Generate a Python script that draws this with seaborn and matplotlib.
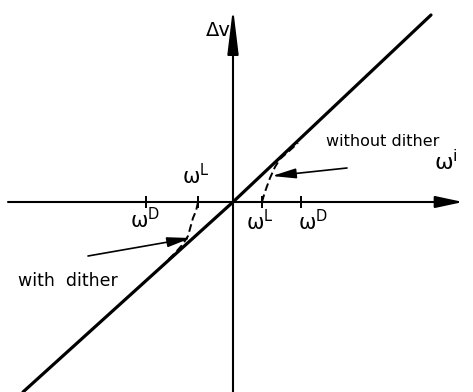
import matplotlib
matplotlib.use("Agg")
import matplotlib.pyplot as plt
import seaborn as sns
import pandas as pd

# Characteristic with dither: straight line through the origin
with_omega = [-210, 0, 198]
with_dv = [-190, 0, 187]

# Characteristic without dither (lock-in): branches starting at +/- omega_L
right_omega = [29, 31, 33, 37, 42, 47, 55, 65]
right_dv = [0, 7, 13, 24, 35, 43, 50, 59]
left_omega = [-35, -37, -40, -45, -50, -57, -66]
left_dv = [0, -9, -16, -34, -42, -50, -59]

# Marked frequencies on the omega^i axis
tick_D = [-87, 68]
tick_L = [-35, 29]

# Axis extents
x_range = (-225, 230)
y_range = (-192, 194)

sns.set_theme(style="white")
plt.rcParams["font.family"] = ["DejaVu Sans"]
plt.rcParams["text.color"] = "black"

fig = plt.figure(figsize=(4.73, 3.92), dpi=100)
ax = fig.add_axes([0, 0, 1, 1])
ax.set_xlim(-233, 240)
ax.set_ylim(-190, 202)
ax.set_axis_off()

# Coordinate axes with arrow heads
ax.annotate("", xy=(x_range[1], 0), xytext=(x_range[0], 0),
            arrowprops=dict(arrowstyle="-|>,head_length=1.4,head_width=0.3",
                            lw=1.5, color="black", shrinkA=0, shrinkB=0))
ax.annotate("", xy=(0, y_range[1]), xytext=(0, y_range[0]),
            arrowprops=dict(arrowstyle="-|>,head_length=2.3,head_width=0.28",
                            lw=1.5, color="black", shrinkA=0, shrinkB=0))

# Tick marks on the horizontal axis
ticks = pd.DataFrame({"x": tick_D + tick_L, "y": [0] * 4})
ax.plot(ticks["x"], ticks["y"], ls="none", marker="|", ms=8, mew=1.4, color="black")

# Curves
sns.lineplot(x=with_omega, y=with_dv, ax=ax, color="black", lw=2.3, sort=False)
sns.lineplot(x=right_omega, y=right_dv, ax=ax, color="black", lw=1.4,
             sort=False, dashes=False, linestyle=(0, (4, 2)))
sns.lineplot(x=left_omega, y=left_dv, ax=ax, color="black", lw=1.4,
             sort=False, dashes=False, linestyle=(0, (4, 2)))

# Pointer arrows to the curves
ax.annotate("", xy=(39, 26), xytext=(114, 34),
            arrowprops=dict(arrowstyle="-|>,head_length=1.2,head_width=0.25",
                            lw=1.2, color="black", shrinkA=0, shrinkB=0))
ax.annotate("", xy=(-42, -36), xytext=(-145, -54),
            arrowprops=dict(arrowstyle="-|>,head_length=1.2,head_width=0.25",
                            lw=1.2, color="black", shrinkA=0, shrinkB=0))

# Labels
ax.text(-15, 171, "Δv", fontsize=14, ha="center", va="center")
ax.text(213, 40, "ω$^{\\mathrm{i}}$", fontsize=16, ha="center", va="center")
ax.text(-88, -18, "ω$^{\\mathrm{D}}$", fontsize=15, ha="center", va="center")
ax.text(-37, 26, "ω$^{\\mathrm{L}}$", fontsize=15, ha="center", va="center")
ax.text(27, -20, "ω$^{\\mathrm{L}}$", fontsize=15, ha="center", va="center")
ax.text(80, -20, "ω$^{\\mathrm{D}}$", fontsize=15, ha="center", va="center")
ax.text(150, 60, "without dither", fontsize=11.5, ha="center", va="center")
ax.text(-165, -79, "with  dither", fontsize=12.5, ha="center", va="center")

fig.savefig("out.png", dpi=100, facecolor="white")
